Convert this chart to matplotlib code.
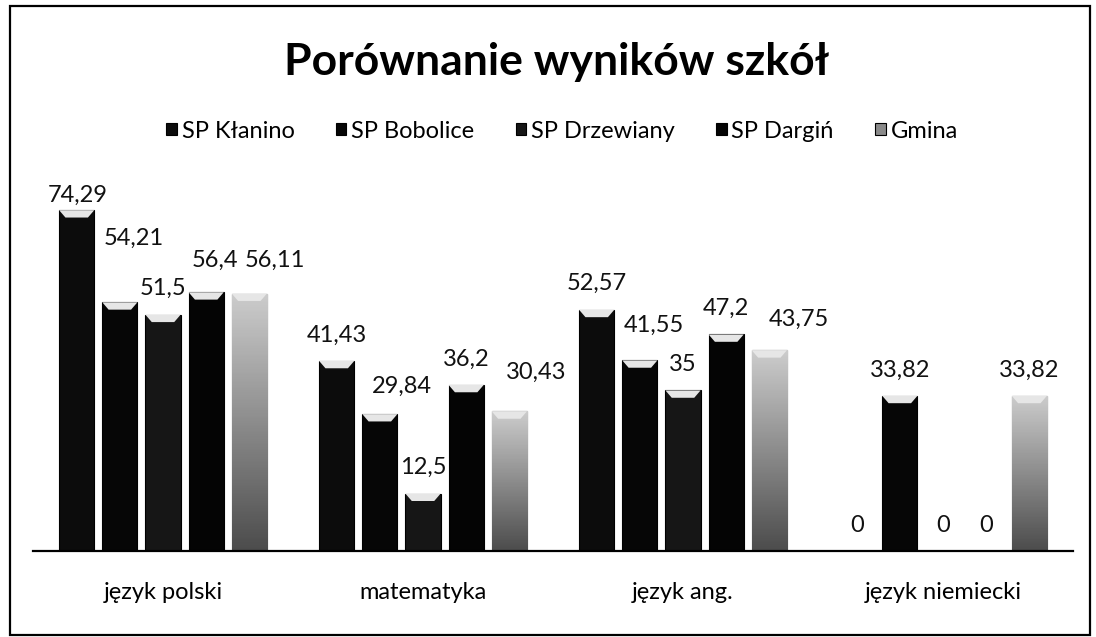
import numpy as np
import matplotlib
matplotlib.use("Agg")
import matplotlib.pyplot as plt
from matplotlib.patches import Rectangle, Polygon

# dane z wykresu
przedmioty = ["język polski", "matematyka", "język ang.", "język niemiecki"]
szkoly = ["SP Kłanino", "SP Bobolice", "SP Drzewiany", "SP Dargiń", "Gmina"]
klanino = [74.29, 41.43, 52.57, 0]
bobolice = [54.21, 29.84, 41.55, 33.82]
drzewiany = [51.5, 12.5, 35, 0]
dargin = [56.4, 36.2, 47.2, 0]
gmina = [56.11, 30.43, 43.75, 33.82]
serie = [klanino, bobolice, drzewiany, dargin, gmina]

kolory = ["#0c0c0c", "#060606", "#161616", "#040404", "#8a8a8a"]

# przesuniecia etykiet (px) tam gdzie w oryginale byly poprzesuwane
domyslne = (0, 26)
przesuniecia = {(0, 0): (1, 15), (0, 1): (14, 64), (0, 3): (9, 32), (0, 4): (26, 33),
                (1, 1): (22, 28), (1, 4): (27, 39), (2, 1): (14, 35), (2, 4): (30, 31)}

plt.rcParams['font.family'] = ['Lato', 'DejaVu Sans']

fig = plt.figure(figsize=(10.96, 6.37), dpi=100)
ax = fig.add_axes([33/1096, 86/637, 1040/1096, 367/637])

x = np.arange(len(przedmioty))
krok = 0.166
szer = 0.135

for j, (nazwa, wart) in enumerate(zip(szkoly, serie)):
    pozycje = x + (j - 2) * krok
    bary = ax.bar(pozycje, wart, width=szer, color=kolory[j], edgecolor="black",
                  linewidth=0.8, label=nazwa, zorder=2)
    for i, b in enumerate(bary):
        h = b.get_height()
        if h > 0:
            bx, bw = b.get_x(), b.get_width()
            if j == 4:
                # gradient dla gminy
                grad = np.linspace(0.8, 0.3, 100).reshape(-1, 1)
                im = ax.imshow(grad, cmap="gray", vmin=0, vmax=1, aspect="auto",
                               extent=(bx, bx + bw, 0, h), zorder=2.5)
                im.set_clip_path(b)
            # jasny skos na gorze slupka
            d = 1.6
            ax.add_patch(Polygon([(bx, h), (bx + bw, h), (bx + bw * 0.82, h - d),
                                  (bx + bw * 0.18, h - d)], closed=True,
                                 facecolor="#e6e6e6", edgecolor="none", zorder=3))
        dx, dy = przesuniecia.get((i, j), domyslne)
        tekst = f"{wart[i]:g}".replace(".", ",")
        ax.annotate(tekst, xy=(b.get_x() + b.get_width() / 2, h),
                    xytext=(dx * 0.72, dy * 0.72), textcoords="offset points",
                    ha="center", va="center", fontsize=17, color="#111111")

ax.set_xlim(-0.5, 3.5)
ax.set_ylim(0, 80)
ax.set_xticks(x)
ax.set_xticklabels(przedmioty, fontsize=17)
ax.tick_params(axis="x", length=0, pad=22)
ax.set_yticks([])
for s in ["top", "right", "left"]:
    ax.spines[s].set_visible(False)
ax.spines["bottom"].set_linewidth(1.6)
ax.spines["bottom"].set_color("black")
ax.patch.set_alpha(0)

fig.text(0.508, 1 - 62/637, "Porównanie wyników szkół", ha="center", va="center",
         fontsize=32, fontweight="bold", color="black")

ax.legend(loc="center", bbox_to_anchor=(562/1096, 1 - 131/637),
          bbox_transform=fig.transFigure, ncol=5, frameon=False, fontsize=17,
          handlelength=0.45, handleheight=0.45, handletextpad=0.2, columnspacing=1.75)

# ramka wokol calego wykresu
fig.patches.append(Rectangle((10/1096, 2/637), 1080/1096, 629/637, transform=fig.transFigure,
                             fill=False, edgecolor="black", linewidth=1.6))

fig.savefig("out.png", dpi=100)
